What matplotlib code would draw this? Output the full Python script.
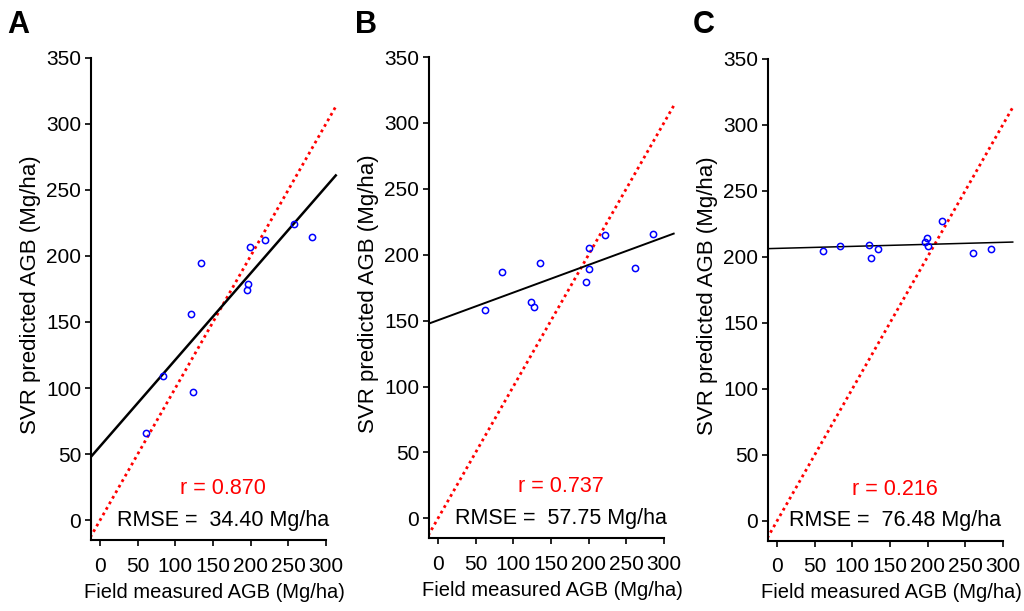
import numpy as np
import matplotlib
matplotlib.use('Agg')
import matplotlib.pyplot as plt

plt.rcParams['font.family'] = ['Liberation Sans', 'DejaVu Sans']

# field measured vs SVR predicted AGB (Mg/ha)
field_a = [61, 84, 121, 124, 134, 195, 197, 199, 219, 257, 282]
pred_a = [66, 109, 156, 97, 195, 174, 179, 207, 212, 224, 214]
field_b = [62, 85, 123, 127, 136, 197, 200, 200, 222, 261, 286]
pred_b = [158, 187, 164, 160, 194, 179, 189, 205, 215, 190, 216]
field_c = [61, 84, 122, 125, 134, 197, 199, 200, 219, 260, 284]
pred_c = [204, 208, 209, 199, 206, 211, 214, 208, 227, 203, 206]

# fitted line (intercept, slope)
fit_a = [55.9, 0.655]
fit_b = [150.3, 0.21]
fit_c = [206.3, 0.0153]

r_vals = ['0.870', '0.737', '0.216']
rmse_vals = ['34.40', '57.75', '76.48']
letters = ['A', 'B', 'C']

fields = [field_a, field_b, field_c]
preds = [pred_a, pred_b, pred_c]
fits = [fit_a, fit_b, fit_c]
fit_lw = [1.8, 1.4, 1.1]
text_x = [163, 163, 156]

fig = plt.figure(figsize=(10.24, 6.11), dpi=100)
# axes positions (figure fractions)
boxes = [[0.0889, 0.1162, 0.2412, 0.8023],
         [0.4189, 0.1193, 0.2412, 0.8003],
         [0.75, 0.1149, 0.2412, 0.8023]]
letter_x = [7, 355, 693]

for i in range(3):
    ax = fig.add_axes(boxes[i])
    xs = np.array([-13, 313])
    ax.plot(xs, xs, color='red', linestyle=(0, (1, 1.3)), linewidth=2.0)
    ax.plot(xs, fits[i][0] + fits[i][1] * xs, color='black', linewidth=fit_lw[i])
    ax.plot(fields[i], preds[i], 'o', markerfacecolor='none', markeredgecolor='blue',
            markersize=4.5, markeredgewidth=1.1)
    ax.set_xlim(-12, 316)
    ax.set_ylim(-15, 356)
    ax.set_xticks(range(0, 301, 50))
    ax.set_yticks(range(0, 351, 50))
    ax.spines['top'].set_visible(False)
    ax.spines['right'].set_visible(False)
    ax.spines['left'].set_bounds(-15, 350)
    ax.spines['bottom'].set_bounds(-12, 300)
    ax.spines['left'].set_linewidth(1.5)
    ax.spines['bottom'].set_linewidth(1.5)
    ax.tick_params(direction='out', length=4, width=1.2, labelsize=15)
    ax.tick_params(axis='x', pad=8)
    ax.tick_params(axis='y', pad=3)
    ax.set_xlabel('Field measured AGB (Mg/ha)', fontsize=14.5, labelpad=5)
    ax.set_ylabel('SVR predicted AGB (Mg/ha)', fontsize=16, labelpad=4)
    ax.text(text_x[i], 24, 'r = ' + r_vals[i], color='red', fontsize=15.5,
            ha='center', va='center')
    ax.text(text_x[i], 0, 'RMSE =  ' + rmse_vals[i] + ' Mg/ha', color='black',
            fontsize=15.5, ha='center', va='center')
    fig.text(letter_x[i] / 1024, 1 - 10 / 611, letters[i], fontsize=22,
             fontweight='bold', ha='left', va='top')

fig.savefig('out.png', dpi=100)
